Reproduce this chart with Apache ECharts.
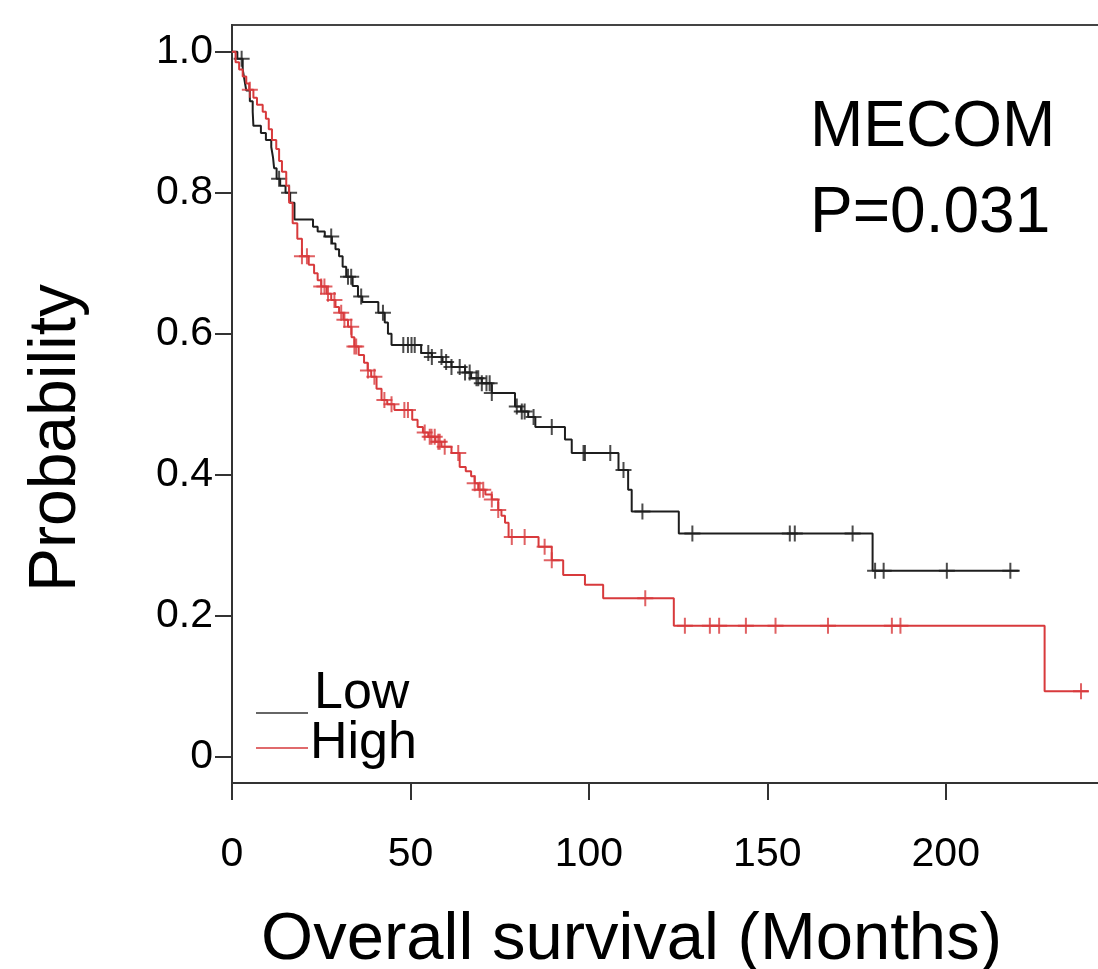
<!DOCTYPE html>
<html>
<head>
<meta charset="utf-8">
<script src="https://cdn.jsdelivr.net/npm/echarts@6/dist/echarts.min.js"></script>
<style>html,body{margin:0;padding:0;background:#fff}#c{width:1098px;height:969px}</style>
</head>
<body>
<div id="c"></div>
<script>
// ---- data ----
const xTicks = [0, 50, 100, 150, 200];
const yTicks = [0, 0.2, 0.4, 0.6, 0.8, 1.0];

const lowTimes = [0, 1.5, 3.0, 3.5, 4.0, 5.0, 5.8, 6.0, 8.1, 9.5, 11, 11.5, 11.8, 12.5, 13.5, 15, 16.3, 17.5, 22.7, 24, 26, 28, 29, 30, 31, 32, 33.8, 35.3, 36.5, 41, 42.8, 43.7, 44.7, 53, 56, 59, 61.5, 65.3, 67, 70, 72.8, 79.3, 81, 83, 85, 93.3, 95.2, 108.3, 111, 112, 125.2, 179.5];
const lowSurv  = [1.0, 0.99, 0.975, 0.96, 0.945, 0.93, 0.915, 0.895, 0.885, 0.875, 0.865, 0.85, 0.835, 0.82, 0.81, 0.80, 0.786, 0.762, 0.752, 0.745, 0.738, 0.728, 0.72, 0.71, 0.695, 0.681, 0.668, 0.653, 0.645, 0.630, 0.616, 0.60, 0.584, 0.573, 0.567, 0.56, 0.553, 0.545, 0.537, 0.530, 0.516, 0.497, 0.49, 0.482, 0.468, 0.45, 0.431, 0.407, 0.379, 0.348, 0.317, 0.264];
const lowEnd = 220.7;
const lowCensor = [2.7, 13.2, 16, 27.8, 32.5, 33.4, 36.2, 42.3, 48, 49.3, 50.3, 51.2, 55, 56, 58.7, 60, 61.5, 63.8, 65.3, 66.6, 68.5, 69, 70, 71.3, 72.2, 72.8, 79.8, 81.2, 82, 84.5, 89.6, 98.5, 98.9, 106, 109.7, 115, 129, 156.3, 157.7, 173.9, 180.2, 182.6, 200.3, 218.1];

const highTimes = [0, 1, 2, 3, 4, 4.8, 6, 7, 8.6, 9.5, 10.3, 11.2, 12.4, 13.2, 14, 15.2, 16, 17, 18.3, 19.6, 21.5, 23, 24, 25, 26.5, 27.8, 29, 30, 31.2, 32.5, 33.5, 34.3, 35.5, 37, 38, 39, 40.5, 41.9, 43.5, 45.5, 50.5, 52, 53.5, 55, 57, 58.7, 61.5, 63.8, 65.5, 67, 68, 69, 71, 72.8, 74.6, 75.5, 76.5, 77.5, 85.9, 89.6, 92.8, 98.9, 104, 123.8, 227.7];
const highSurv  = [1.0, 0.985, 0.975, 0.965, 0.955, 0.946, 0.935, 0.925, 0.915, 0.905, 0.89, 0.875, 0.862, 0.845, 0.83, 0.81, 0.786, 0.757, 0.735, 0.71, 0.698, 0.686, 0.676, 0.667, 0.657, 0.648, 0.638, 0.63, 0.62, 0.61, 0.595, 0.582, 0.57, 0.559, 0.548, 0.539, 0.522, 0.506, 0.50, 0.492, 0.478, 0.468, 0.46, 0.454, 0.447, 0.44, 0.431, 0.411, 0.405, 0.398, 0.388, 0.379, 0.372, 0.365, 0.35, 0.342, 0.332, 0.312, 0.298, 0.279, 0.258, 0.244, 0.225, 0.186, 0.093];
const highEnd = 240;
const highCensor = [5, 19.6, 21, 25, 25.9, 26.9, 28.7, 30.6, 31.5, 33.4, 34.3, 34.8, 38.1, 39.9, 42.7, 44.7, 48.3, 49.3, 54, 55.4, 55.9, 56.8, 57.8, 58.2, 59.6, 63.4, 68, 69.4, 70.4, 72.8, 74.6, 78.4, 82, 87.6, 89.6, 115.8, 126.9, 133.9, 136.5, 144, 152.3, 167, 184.9, 187.3, 237.9];

const legendNames = ['Low', 'High'];
const geneName = 'MECOM';
const pText = 'P=0.031';

// ---- helpers ----
function stepData(times, surv, end) {
  const d = times.map((t, i) => [t, surv[i]]);
  d.push([end, surv[surv.length - 1]]);
  return d;
}
function survAt(times, surv, t) {
  let s = surv[0];
  for (let i = 0; i < times.length; i++) { if (times[i] <= t) s = surv[i]; else break; }
  return s;
}
function censorData(times, surv, cens) {
  return cens.map(t => [t, survAt(times, surv, t)]);
}

const BLACK = '#1e1e1e';
const RED = '#d83a3c';
const FONT = '"Liberation Sans", Arial, sans-serif';
const PLUS = 'path://M7,0H9V7H16V9H9V16H7V9H0V7H7Z';

const chart = echarts.init(document.getElementById('c'), null, { renderer: 'canvas' });
chart.setOption({
  animation: false,
  backgroundColor: '#fff',
  textStyle: { fontFamily: FONT },
  grid: { left: 232, top: 25, right: -3, bottom: 186, show: true, borderColor: '#444', borderWidth: 2, backgroundColor: 'transparent',
    containLabel: false, outerBoundsMode: 'none' },
  xAxis: {
    type: 'value', min: 0, max: 243.5,
    name: 'Overall survival (Months)', nameLocation: 'middle', nameGap: 124,
    nameTextStyle: { fontSize: 67, color: '#000', fontFamily: FONT, padding: [0, 70, 0, 0] },
    axisLine: { show: true, onZero: false, lineStyle: { color: '#333', width: 2 } },
    axisTick: { show: true, inside: false, length: 17, lineStyle: { color: '#333', width: 2 }, customValues: xTicks },
    axisLabel: { fontSize: 41, color: '#000', margin: 51, fontFamily: FONT, customValues: xTicks },
    splitLine: { show: false }
  },
  yAxis: {
    type: 'value', min: -0.037, max: 1.038,
    name: 'Probability', nameLocation: 'middle', nameGap: 142, nameRotate: 90,
    nameTextStyle: { fontSize: 66, color: '#000', fontFamily: FONT, padding: [0, 68, 0, 0] },
    axisLine: { show: true, onZero: false, lineStyle: { color: '#333', width: 2 } },
    axisTick: { show: true, length: 17, lineStyle: { color: '#333', width: 2 }, customValues: yTicks },
    axisLabel: { fontSize: 41, color: '#000', margin: 19, fontFamily: FONT, customValues: yTicks,
      formatter: v => (Math.abs(v) < 1e-9 ? '0' : v.toFixed(1)) },
    splitLine: { show: false }
  },
  title: {
    text: geneName + '\n' + pText, left: 805, top: 80,
    textStyle: { fontSize: 64, fontWeight: 'normal', color: '#000', lineHeight: 86, fontFamily: FONT }
  },
  graphic: [
    { type: 'line', shape: { x1: 256, y1: 713, x2: 308, y2: 713 }, style: { stroke: '#666', lineWidth: 2 } },
    { type: 'line', shape: { x1: 256, y1: 748, x2: 308, y2: 748 }, style: { stroke: '#e06a6c', lineWidth: 2 } },
    { type: 'text', left: 314, top: 668, style: { text: legendNames[0], fontSize: 52, fill: '#000', fontFamily: FONT } },
    { type: 'text', left: 310, top: 718, style: { text: legendNames[1], fontSize: 52, fill: '#000', fontFamily: FONT } }
  ],
  series: [
    { name: legendNames[0], type: 'line', step: 'end', data: stepData(lowTimes, lowSurv, lowEnd), showSymbol: false,
      lineStyle: { color: BLACK, width: 2 }, z: 2 },
    { name: legendNames[0] + ' censored', type: 'scatter', data: censorData(lowTimes, lowSurv, lowCensor),
      symbol: PLUS, symbolSize: 16, itemStyle: { color: BLACK }, z: 3 },
    { name: legendNames[1], type: 'line', step: 'end', data: stepData(highTimes, highSurv, highEnd), showSymbol: false,
      lineStyle: { color: RED, width: 2 }, z: 4 },
    { name: legendNames[1] + ' censored', type: 'scatter', data: censorData(highTimes, highSurv, highCensor),
      symbol: PLUS, symbolSize: 16, itemStyle: { color: RED }, z: 5 }
  ]
});
</script>
</body>
</html>
